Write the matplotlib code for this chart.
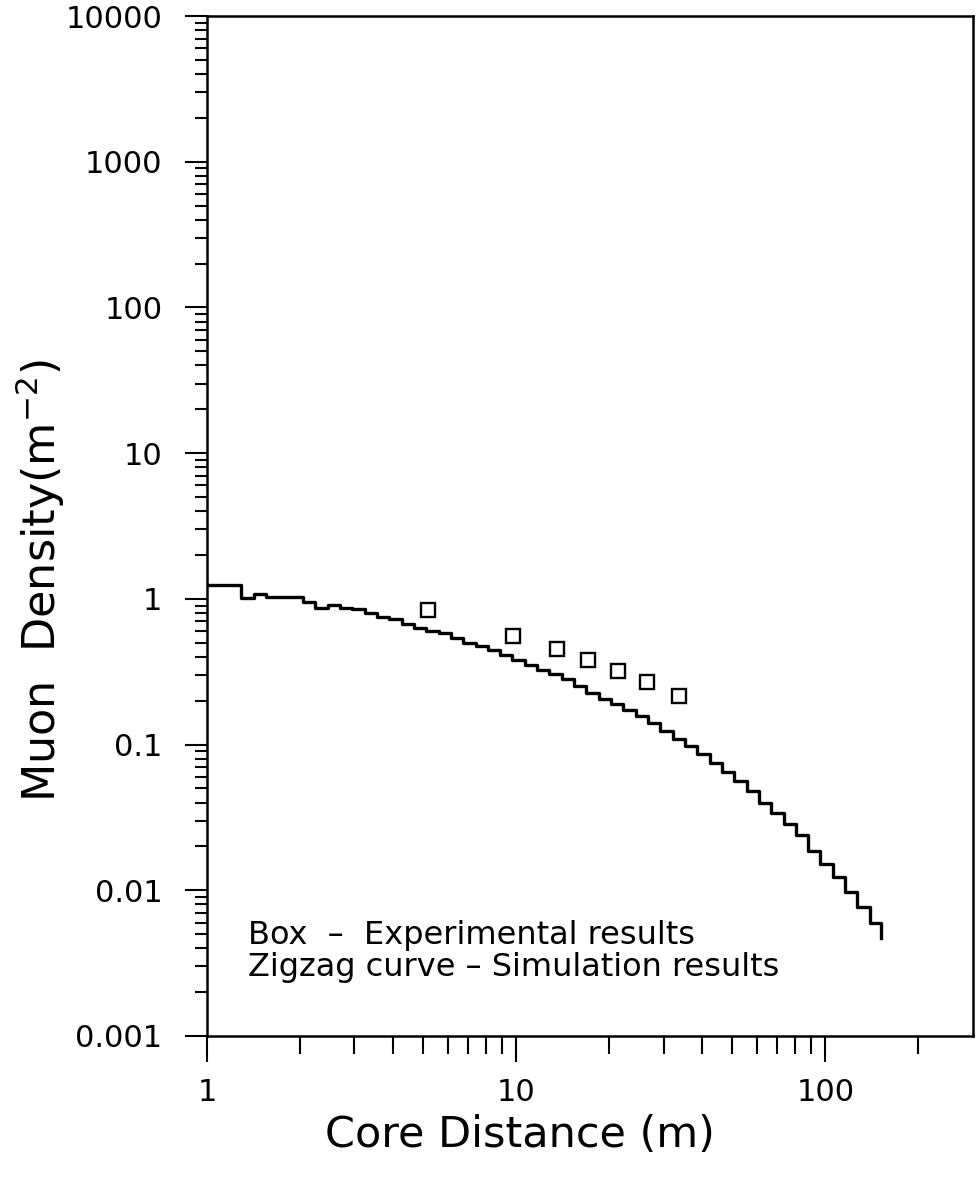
import matplotlib
matplotlib.use("Agg")
import matplotlib.pyplot as plt
from matplotlib.ticker import FixedLocator, NullFormatter

# Experimental muon densities (boxes)
exp_r = [5.19, 9.78, 13.6, 17.1, 21.4, 26.4, 33.5]
exp_rho = [0.84, 0.556, 0.452, 0.379, 0.319, 0.268, 0.214]

# Simulated lateral distribution, histogram bins (left edges) and densities
sim_edges = [1.0, 1.292, 1.416, 1.553, 1.702, 1.866, 2.045, 2.242, 2.457, 2.693,
             2.951, 3.236, 3.546, 3.887, 4.260, 4.670, 5.118, 5.610, 6.149, 6.740,
             7.388, 8.097, 8.875, 9.728, 10.66, 11.69, 12.81, 14.04, 15.39, 16.87,
             18.49, 20.27, 22.22, 24.35, 26.69, 29.26, 32.07, 35.15, 38.53, 42.23,
             46.29, 50.74, 55.62, 60.96, 66.82, 73.24, 80.28, 87.99, 96.41, 105.7,
             115.8, 126.9, 139.2, 151.0]
sim_rho = [1.249, 1.016, 1.083, 1.032, 1.032, 1.032, 0.953, 0.867, 0.909, 0.867,
           0.853, 0.794, 0.751, 0.722, 0.676, 0.631, 0.602, 0.583, 0.541, 0.497,
           0.474, 0.443, 0.411, 0.380, 0.351, 0.324, 0.304, 0.281, 0.251, 0.225,
           0.204, 0.189, 0.174, 0.158, 0.140, 0.123, 0.110, 0.0985, 0.0867, 0.0751,
           0.0651, 0.0564, 0.0482, 0.0398, 0.0337, 0.0285, 0.0238, 0.0187, 0.0152,
           0.0124, 0.00977, 0.00763, 0.00597, 0.00467]

y_major = [0.001, 0.01, 0.1, 1, 10, 100, 1000, 10000]
y_labels = ["0.001", "0.01", "0.1", "1", "10", "100", "1000", "10000"]
x_major = [1, 10, 100]
x_labels = ["1", "10", "100"]

plt.rcParams['font.family'] = ['DejaVu Sans']

fig = plt.figure(figsize=(9.79, 11.77), dpi=100)
ax = fig.add_axes([0.2114, 0.1198, 0.7824, 0.8666])

ax.step(sim_edges, sim_rho, where='post', color='black', lw=2.4)
ax.plot(exp_r, exp_rho, linestyle='none', marker='s', markersize=9.5,
        markerfacecolor='white', markeredgecolor='black', markeredgewidth=1.7)

ax.set_xscale('log')
ax.set_yscale('log')
ax.set_xlim(1, 300)
ax.set_ylim(0.001, 10000)

ax.yaxis.set_major_locator(FixedLocator(y_major))
ax.set_yticklabels(y_labels)
y_minor = [m * d for d in y_major[:-1] for m in range(2, 10)]
ax.yaxis.set_minor_locator(FixedLocator(y_minor))
ax.yaxis.set_minor_formatter(NullFormatter())

ax.xaxis.set_major_locator(FixedLocator(x_major))
ax.set_xticklabels(x_labels)
x_minor = [m * d for d in [1, 10] for m in range(2, 10)] + [200]
ax.xaxis.set_minor_locator(FixedLocator(x_minor))
ax.xaxis.set_minor_formatter(NullFormatter())

for s in ax.spines.values():
    s.set_linewidth(1.8)

ax.tick_params(axis='y', which='major', direction='out', length=16, width=1.5,
               labelsize=22, pad=16)
ax.tick_params(axis='y', which='minor', direction='out', length=9, width=1.5)
ax.tick_params(axis='x', which='major', direction='out', length=18.5, width=1.5,
               labelsize=22, pad=12)
ax.tick_params(axis='x', which='minor', direction='out', length=12.7, width=1.5)

ax.set_xlabel("Core Distance (m)", fontsize=31)
ax.xaxis.set_label_coords(0.409, -0.097)
ax.xaxis.label.set_va('center')
ax.set_ylabel("Muon  Density(m$^{-2}$)", fontsize=32)
ax.yaxis.set_label_coords(-0.218, 0.447)
ax.yaxis.label.set_va('center')

ax.text(0.053, 0.099, "Box  \u2013  Experimental results", transform=ax.transAxes,
        fontsize=23, va='center', ha='left')
ax.text(0.053, 0.0667, "Zigzag curve \u2013 Simulation results", transform=ax.transAxes,
        fontsize=23, va='center', ha='left')

fig.savefig("out.png", dpi=100)
